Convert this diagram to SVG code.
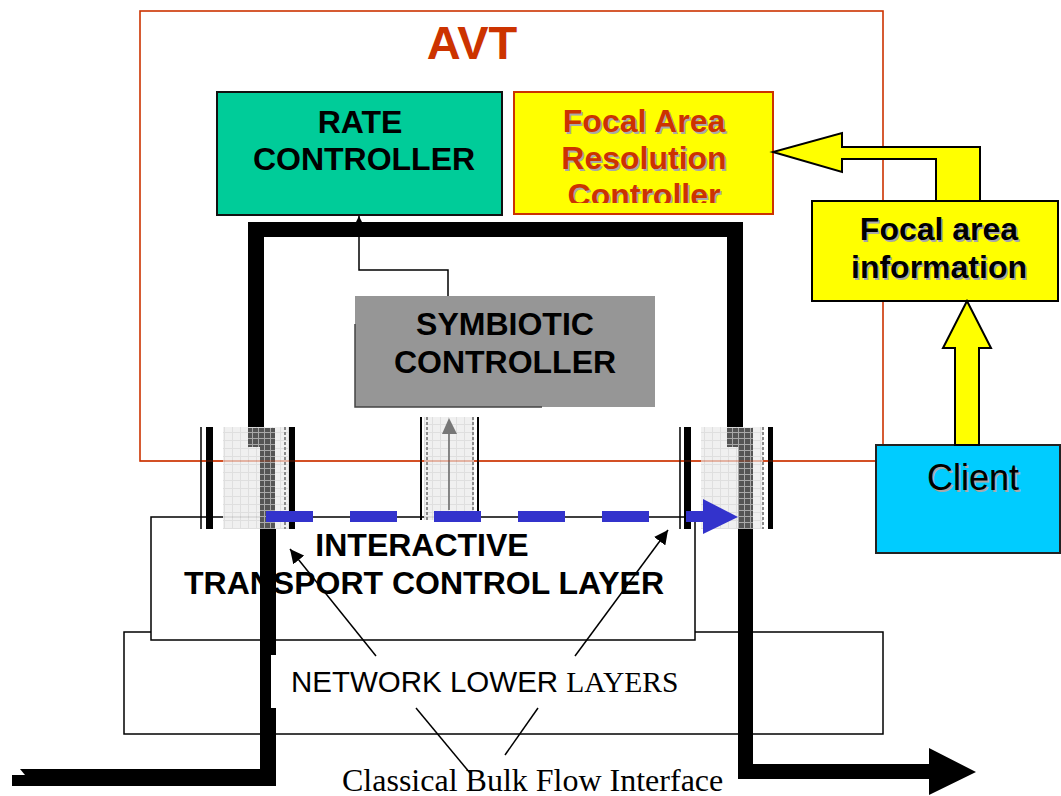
<svg xmlns="http://www.w3.org/2000/svg" width="1061" height="796" viewBox="0 0 1061 796">
<style>
.b{font-family:"Liberation Sans",Arial,sans-serif;font-weight:bold;font-size:32px;text-anchor:middle}
.sh{fill:#A8A8A8}
.thin{fill:none;stroke:#000;stroke-width:1.5}
.gd{stroke:#8A8A8A;stroke-width:2;stroke-dasharray:3 2}
</style>
<defs>
<pattern id="lt" width="8" height="8" patternUnits="userSpaceOnUse"><rect width="8" height="8" fill="#EEEEEE"/><path d="M0 0.5H8M0.5 0V8" stroke="#DCDCDC" stroke-width="1"/></pattern>
<pattern id="dk" width="6" height="6" patternUnits="userSpaceOnUse"><rect width="6" height="6" fill="#555555"/><path d="M0 0.5H6M0.5 0V6" stroke="#A8A8A8" stroke-width="1"/></pattern>
<marker id="ah" viewBox="0 0 10 10" refX="10" refY="5" markerWidth="14" markerHeight="14" markerUnits="userSpaceOnUse" orient="auto"><path d="M0 0L10 5L0 10Z" fill="#000"/></marker>
<marker id="ahs" viewBox="0 0 10 10" refX="10" refY="5" markerWidth="7" markerHeight="7" markerUnits="userSpaceOnUse" orient="auto"><path d="M0 0L10 5L0 10Z" fill="#000"/></marker>
<clipPath id="fc"><rect x="514" y="92" width="259" height="111"/></clipPath>
</defs>

<g id="avt">
<rect x="140" y="11" width="743" height="450" fill="none" stroke="#CC3300" stroke-width="1.6"/>
<text x="472" y="59" class="b" style="font-size:47px" fill="#CC3300">AVT</text>
</g>

<g id="rate-controller">
<rect x="217" y="92" width="285" height="123" fill="#00CC99" stroke="#111" stroke-width="2"/>
<text class="b" x="360" y="133">RATE</text>
<text class="b" x="364" y="170">CONTROLLER</text>
</g>

<g id="focal-area-resolution-controller">
<rect x="514" y="92" width="259" height="122" fill="#FFFF00" stroke="#CC3300" stroke-width="2"/>
<g clip-path="url(#fc)">
<g class="sh" transform="translate(1.5,1.5)">
<text class="b" x="644" y="132">Focal Area</text>
<text class="b" x="644" y="169">Resolution</text>
<text class="b" x="644" y="206">Controller</text>
</g>
<g fill="#CC3300">
<text class="b" x="644" y="132">Focal Area</text>
<text class="b" x="644" y="169">Resolution</text>
<text class="b" x="644" y="206">Controller</text>
</g>
</g>
</g>

<g id="network-lower-layers">
<rect x="124" y="632" width="759" height="102" fill="#fff" stroke="#000" stroke-width="1.5"/>
</g>

<g id="interactive-transport-control-layer">
<rect x="151" y="517" width="544" height="123" fill="#fff" stroke="#000" stroke-width="1.5"/>
<text class="b" x="422" y="556">INTERACTIVE</text>
<text class="b" x="424" y="594">TRANSPORT CONTROL LAYER</text>
</g>

<g id="symbiotic-controller">
<rect x="355" y="296" width="300" height="111" fill="#969696"/>
<path d="M355 324V407H542" fill="none" stroke="#444" stroke-width="1.5"/>
<text class="b" x="505" y="335">SYMBIOTIC</text>
<text class="b" x="505" y="373">CONTROLLER</text>
</g>

<g id="bulk-flow">
<rect x="248" y="222" width="495" height="15" fill="#000"/>
<rect x="248" y="222" width="16" height="206" fill="#000"/>
<rect x="727" y="222" width="16" height="206" fill="#000"/>
<rect x="260" y="529" width="16" height="257" fill="#000"/>
<rect x="12" y="769" width="264" height="17" fill="#000"/>
<path d="M12 769H20L25 775H12Z" fill="#fff"/>
<path d="M738 529H753V764H929V748L976 772L929 795V779H738Z" fill="#000"/>
</g>

<g id="interface-left">
<rect x="223" y="427" width="67" height="102" fill="url(#lt)" fill-opacity="0.9"/>
<path d="M248 428H275V529H260V447H248Z" fill="url(#dk)"/>
<line x1="201" y1="427" x2="201" y2="529" stroke="#000" stroke-width="1.5"/>
<rect x="206" y="427" width="7" height="102" fill="#000"/>
<line x1="285" y1="427" x2="285" y2="529" class="gd"/>
<rect x="289" y="427" width="6" height="102" fill="#000"/>
</g>

<g id="interface-middle">
<rect x="424" y="417" width="50" height="103" fill="url(#lt)" fill-opacity="0.9"/>
<line x1="421" y1="417" x2="421" y2="520" stroke="#000" stroke-width="2"/>
<line x1="427" y1="417" x2="427" y2="520" class="gd"/>
<line x1="473" y1="417" x2="473" y2="520" class="gd"/>
<line x1="478" y1="417" x2="478" y2="520" stroke="#000" stroke-width="2"/>
<line x1="449" y1="510" x2="449" y2="432" stroke="#666" stroke-width="1.5"/>
<path d="M442 434L449 418L457 434Z" fill="#777"/>
</g>

<g id="interface-right">
<rect x="701" y="427" width="62" height="102" fill="url(#lt)" fill-opacity="0.9"/>
<path d="M727 428H753V529H738V447H727Z" fill="url(#dk)"/>
<line x1="680" y1="427" x2="680" y2="529" stroke="#000" stroke-width="1.5"/>
<rect x="684" y="427" width="7" height="102" fill="#000"/>
<line x1="763" y1="427" x2="763" y2="529" class="gd"/>
<rect x="768" y="427" width="5" height="102" fill="#000"/>
</g>

<line x1="140" y1="461" x2="883" y2="461" stroke="#CC3300" stroke-width="1.6" stroke-opacity="0.35"/>

<g id="network-lower-label">
<rect x="271" y="655" width="415" height="53" fill="#fff"/>
<text x="291" y="692" font-size="29.5"><tspan font-family="Liberation Sans, Arial, sans-serif">NETWORK LOWER </tspan><tspan font-family="Liberation Serif, Times New Roman, serif">LAYERS</tspan></text>
</g>

<g id="focal-area-information">
<rect x="812" y="201" width="246" height="100" fill="#FFFF00" stroke="#000" stroke-width="2"/>
<g class="sh" transform="translate(1.5,1.5)">
<text class="b" x="939" y="240">Focal area</text>
<text class="b" x="939" y="278">information</text>
</g>
<text class="b" x="939" y="240">Focal area</text>
<text class="b" x="939" y="278">information</text>
</g>

<g id="client">
<rect x="876" y="445" width="184" height="108" fill="#00CCFF" stroke="#222" stroke-width="2"/>
<text x="974.5" y="491.5" font-family="Liberation Sans, Arial, sans-serif" font-size="36" text-anchor="middle" fill="#A8A8A8">Client</text>
<text x="973" y="490" font-family="Liberation Sans, Arial, sans-serif" font-size="36" text-anchor="middle" fill="#000">Client</text>
</g>

<g id="bottom-label">
<text x="342" y="791" font-family="Liberation Serif, Times New Roman, serif" font-size="32">Classical Bulk Flow Interface</text>
</g>

<g id="connectors">
<path d="M448 296V270H359V216" class="thin" marker-end="url(#ahs)"/>
<path d="M980 147H842V133L773 152L842 172V159H936V201H980Z" fill="#FFFF00" stroke="#000" stroke-width="2" stroke-linejoin="miter"/>
<path d="M967 301L991 348H979V445H955V348H943Z" fill="#FFFF00" stroke="#000" stroke-width="2"/>
<line x1="266" y1="516.5" x2="704" y2="516.5" stroke="#3333CC" stroke-width="11" stroke-dasharray="47 37"/>
<path d="M703 499L738 517L703 534Z" fill="#3333CC"/>
<line x1="376" y1="656" x2="290" y2="549" stroke="#000" stroke-width="1.5" marker-end="url(#ah)"/>
<line x1="575" y1="656" x2="668" y2="530" stroke="#000" stroke-width="1.5" marker-end="url(#ah)"/>
<line x1="416" y1="708" x2="470" y2="773" stroke="#000" stroke-width="1.5"/>
<line x1="538" y1="708" x2="505" y2="755" stroke="#000" stroke-width="1.5"/>
</g>
</svg>
